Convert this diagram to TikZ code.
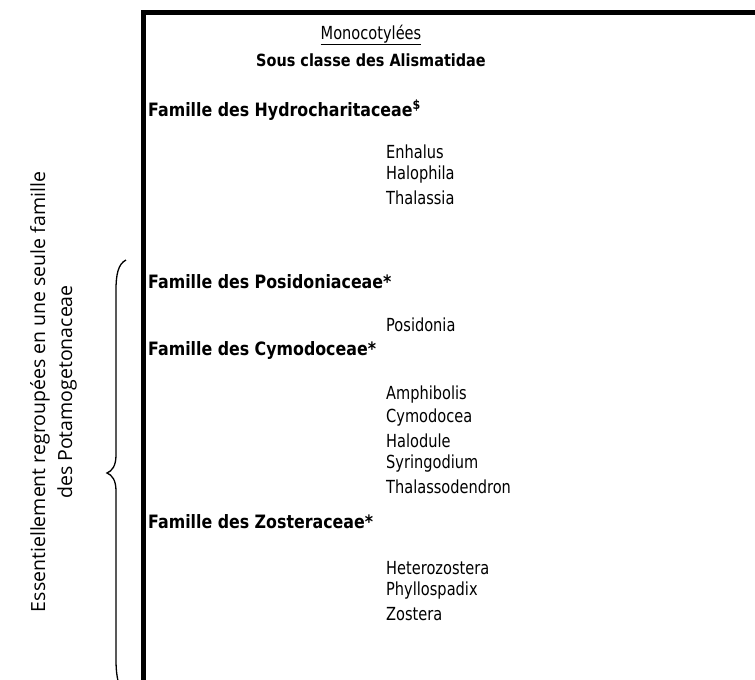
\documentclass[tikz,border=0pt]{standalone}
\usepackage{fontspec}
\newfontfamily\regf[FakeStretch=0.81]{DejaVu Sans}
\newfontfamily\famf[FakeStretch=0.86]{DejaVu Sans}
\newfontfamily\sidef{Open Sans}
\tikzset{
  gen/.style={anchor=west, inner sep=0pt, font=\regf\fontsize{18}{21}\selectfont},
  fam/.style={anchor=west, inner sep=0pt, font=\famf\bfseries\fontsize{18.4}{21}\selectfont},
  ttl/.style={anchor=center, inner sep=0pt},
  side/.style={rotate=90, anchor=center, inner sep=0pt, font=\sidef\fontsize{19.5}{22}\selectfont},
  frame/.style={line width=5pt},
  brace/.style={line width=1.3pt}
}
\begin{document}
\begin{tikzpicture}[x=1pt,y=-1pt]
\useasboundingbox (0,0) rectangle (755,680);
\clip (0,0) rectangle (755,680);
% frame
\coordinate (fb) at (143.5,690);
\coordinate (fc) at (143.5,12.5);
\coordinate (fr) at (760,12.5);
\draw[frame] (fb) -- (fc) -- (fr);
% titles
\node[ttl, font=\regf\fontsize{18}{21}\selectfont] (mono) at (371,35) {\underline{Monocotylées}};
\node[ttl, font=\famf\bfseries\fontsize{16.8}{20}\selectfont] (sous) at (371,60) {Sous classe des Alismatidae};
% families and genera
\node[fam] (hyd) at (148,110) {Famille des Hydrocharitaceae\textsuperscript{\$}};
\node[gen] (g1) at (386,152) {Enhalus};
\node[gen] (g2) at (386,175) {Halophila};
\node[gen] (g3) at (386,198) {Thalassia};
\node[fam] (pos) at (148,282) {Famille des Posidoniaceae*};
\node[gen] (g4) at (386,325) {Posidonia};
\node[fam] (cym) at (148,350) {Famille des Cymodoceae*};
\node[gen] (g5) at (386,395) {Amphibolis};
\node[gen] (g6) at (386,418) {Cymodocea};
\node[gen] (g7) at (386,441) {Halodule};
\node[gen] (g8) at (386,464) {Syringodium};
\node[gen] (g9) at (386,487) {Thalassodendron};
\node[fam] (zos) at (148,522) {Famille des Zosteraceae*};
\node[gen] (g10) at (386,568) {Heterozostera};
\node[gen] (g11) at (386,591) {Phyllospadix};
\node[gen] (g12) at (386,614) {Zostera};
% brace
\coordinate (bt) at (126,260);
\coordinate (bm) at (107,473);
\coordinate (bb) at (128,700);
\draw[brace] (bt) .. controls (118,264) and (116,275) .. (116,290)
  -- (116,455) .. controls (116,466) and (112,471) .. (bm)
  .. controls (112,475) and (116,480) .. (116,491)
  -- (116,660) .. controls (116,680) and (120,692) .. (bb);
% side text
\node[side] (s1) at (40,392) {Essentiellement regroupées en une seule famille};
\node[side] (s2) at (67,392) {des Potamogetonaceae};
\end{tikzpicture}
\end{document}
